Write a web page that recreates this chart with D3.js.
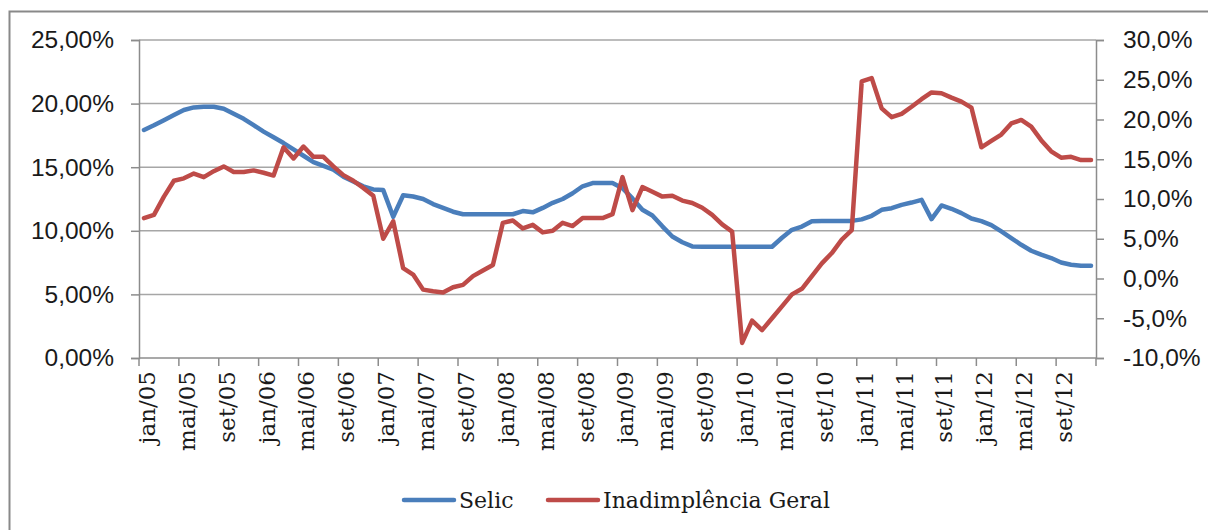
<!DOCTYPE html>
<html>
<head>
<meta charset="utf-8">
<script src="https://cdn.jsdelivr.net/npm/d3@7"></script>
<style>
  html, body { margin: 0; padding: 0; background: #fff; }
  svg { display: block; }
</style>
</head>
<body>
<svg id="chart" width="1208" height="530"></svg>
<script>
// Month abbreviations (pt-BR) and the years covered
const monthNames = ["jan", "fev", "mar", "abr", "mai", "jun", "jul", "ago", "set", "out", "nov", "dez"];
const years = ["05", "06", "07", "08", "09", "10", "11", "12"];

// Selic rate, % a.a. (left axis), monthly jan/05 – dez/12
const selic = [
  17.93, 18.3, 18.7, 19.1, 19.5, 19.7, 19.75, 19.75, 19.6, 19.2, 18.8, 18.3,
  17.8, 17.35, 16.9, 16.4, 15.9, 15.4, 15.1, 14.8, 14.26, 13.87, 13.5, 13.25,
  13.2, 11.1, 12.8, 12.7, 12.5, 12.1, 11.8, 11.5, 11.3, 11.3, 11.3, 11.3,
  11.3, 11.3, 11.55, 11.45, 11.8, 12.2, 12.5, 12.95, 13.5, 13.75, 13.75, 13.75,
  13.35, 12.55, 11.65, 11.2, 10.35, 9.55, 9.1, 8.77, 8.75, 8.75, 8.75, 8.75,
  8.75, 8.75, 8.75, 8.75, 9.45, 10.08, 10.33, 10.75, 10.78, 10.78, 10.78, 10.78,
  10.9, 11.18, 11.65, 11.78, 12.04, 12.22, 12.43, 10.92, 11.99, 11.73, 11.39, 10.97,
  10.76, 10.45, 9.95, 9.43, 8.9, 8.43, 8.12, 7.86, 7.51, 7.33, 7.25, 7.25
];

// Inadimplência Geral, % (right axis), monthly jan/05 – dez/12
const inadimplencia = [
  7.6, 8.0, 10.3, 12.3, 12.6, 13.2, 12.75, 13.5, 14.1, 13.4, 13.4, 13.6,
  13.3, 12.95, 16.5, 15.1, 16.6, 15.3, 15.3, 14.1, 13.0, 12.3, 11.4, 10.4,
  5.0, 7.2, 1.3, 0.5, -1.4, -1.6, -1.75, -1.1, -0.8, 0.3, 1.0, 1.7,
  7.0, 7.3, 6.3, 6.75, 5.8, 6.0, 7.0, 6.6, 7.6, 7.6, 7.6, 8.1,
  12.75, 8.6, 11.5, 10.9, 10.3, 10.4, 9.8, 9.5, 8.9, 8.0, 6.8, 5.9,
  -8.1, -5.3, -6.5, -5.0, -3.5, -2.0, -1.3, 0.3, 1.9, 3.2, 4.9, 6.1,
  24.8, 25.2, 21.4, 20.3, 20.7, 21.6, 22.55, 23.4, 23.3, 22.75, 22.25, 21.5,
  16.5, 17.3, 18.1, 19.5, 19.95, 19.1, 17.4, 16.0, 15.2, 15.3, 14.9, 14.9
];

const leftTicks = [0, 5, 10, 15, 20, 25];
const rightTicks = [-10, -5, 0, 5, 10, 15, 20, 25, 30];
const seriesNames = ["Selic", "Inadimplência Geral"];
const colors = ["#4a7ebb", "#be4b48"];

const categories = [];
years.forEach(y => monthNames.forEach(m => categories.push(m + "/" + y)));

const svg = d3.select("#chart");
const plot = { left: 139, right: 1096, top: 40, bottom: 358 };

// Outer frame
svg.append("rect")
  .attr("x", 9.5).attr("y", 11.5)
  .attr("width", 1220).attr("height", 540)
  .attr("fill", "none").attr("stroke", "#898989").attr("stroke-width", 2);

const x = d3.scaleBand().domain(categories).range([plot.left, plot.right]).padding(0);
const yL = d3.scaleLinear().domain([0, 25]).range([plot.bottom, plot.top]);
const yR = d3.scaleLinear().domain([-10, 30]).range([plot.bottom, plot.top]);
const cx = c => x(c) + x.bandwidth() / 2;

// Brazilian number format: comma decimal, plain hyphen for negatives
const pt = d3.formatLocale({ decimal: ",", thousands: ".", grouping: [3], currency: ["R$", ""], minus: "-" });
const fmtL = v => pt.format(".2f")(v) + "%";
const fmtR = v => pt.format(".1f")(v) + "%";

// Horizontal gridlines on the left-axis ticks
svg.append("g")
  .selectAll("line").data(leftTicks.filter(t => t > 0)).join("line")
  .attr("x1", plot.left).attr("x2", plot.right)
  .attr("y1", d => yL(d)).attr("y2", d => yL(d))
  .attr("stroke", "#a6a6a6").attr("stroke-width", 1.5);

const axisColor = "#8c8c8c";

// Left axis
const gL = svg.append("g").attr("transform", `translate(${plot.left},0)`)
  .call(d3.axisLeft(yL).tickValues(leftTicks).tickFormat(fmtL).tickSize(8).tickPadding(17));
gL.select(".domain").attr("stroke", axisColor).attr("stroke-width", 1.5);
gL.selectAll(".tick line").attr("stroke", axisColor).attr("stroke-width", 1.5);
gL.selectAll("text").attr("font-family", "Liberation Sans, Arial, sans-serif")
  .attr("font-size", 24.5).attr("fill", "#1a1a1a");

// Right axis
const gR = svg.append("g").attr("transform", `translate(${plot.right},0)`)
  .call(d3.axisRight(yR).tickValues(rightTicks).tickFormat(fmtR).tickSize(8).tickPadding(19));
gR.select(".domain").attr("stroke", axisColor).attr("stroke-width", 1.5);
gR.selectAll(".tick line").attr("stroke", axisColor).attr("stroke-width", 1.5);
gR.selectAll("text").attr("font-family", "Liberation Sans, Arial, sans-serif")
  .attr("font-size", 24.5).attr("fill", "#1a1a1a");

// Bottom category axis: tick marks every 4 months at band edges
const tickIdx = d3.range(0, categories.length + 1, 4);
const gB = svg.append("g");
gB.append("line")
  .attr("x1", plot.left).attr("x2", plot.right)
  .attr("y1", plot.bottom).attr("y2", plot.bottom)
  .attr("stroke", axisColor).attr("stroke-width", 1.5);
gB.selectAll("line.tk").data(tickIdx).join("line").attr("class", "tk")
  .attr("x1", i => i < categories.length ? x(categories[i]) : plot.right)
  .attr("x2", i => i < categories.length ? x(categories[i]) : plot.right)
  .attr("y1", plot.bottom).attr("y2", plot.bottom + 8)
  .attr("stroke", axisColor).attr("stroke-width", 1.5);
gB.selectAll("text").data(categories.filter((c, i) => i % 4 === 0)).join("text")
  .attr("transform", c => `translate(${cx(c) + 3},${plot.bottom + 13}) rotate(-90)`)
  .attr("text-anchor", "end")
  .attr("dominant-baseline", "central")
  .attr("font-family", "DejaVu Serif, serif")
  .attr("font-size", 23).attr("fill", "#1a1a1a")
  .text(c => c);

// Series lines
const lineL = d3.line().x((d, i) => cx(categories[i])).y(d => yL(d));
const lineR = d3.line().x((d, i) => cx(categories[i])).y(d => yR(d));

svg.append("path").datum(selic)
  .attr("d", lineL).attr("fill", "none")
  .attr("stroke", colors[0]).attr("stroke-width", 4.5)
  .attr("stroke-linejoin", "round").attr("stroke-linecap", "round");

svg.append("path").datum(inadimplencia)
  .attr("d", lineR).attr("fill", "none")
  .attr("stroke", colors[1]).attr("stroke-width", 4.5)
  .attr("stroke-linejoin", "round").attr("stroke-linecap", "round");

// Legend
const legend = svg.append("g");
const legendItems = [
  { name: seriesNames[0], color: colors[0], x0: 404 },
  { name: seriesNames[1], color: colors[1], x0: 548 }
];
legendItems.forEach(it => {
  legend.append("line")
    .attr("x1", it.x0).attr("x2", it.x0 + 50)
    .attr("y1", 500).attr("y2", 500)
    .attr("stroke", it.color).attr("stroke-width", 4.5).attr("stroke-linecap", "round");
  legend.append("text")
    .attr("x", it.x0 + 55).attr("y", 500)
    .attr("dominant-baseline", "central")
    .attr("font-family", "DejaVu Serif, serif")
    .attr("font-size", 22).attr("fill", "#1a1a1a")
    .text(it.name);
});
</script>
</body>
</html>
